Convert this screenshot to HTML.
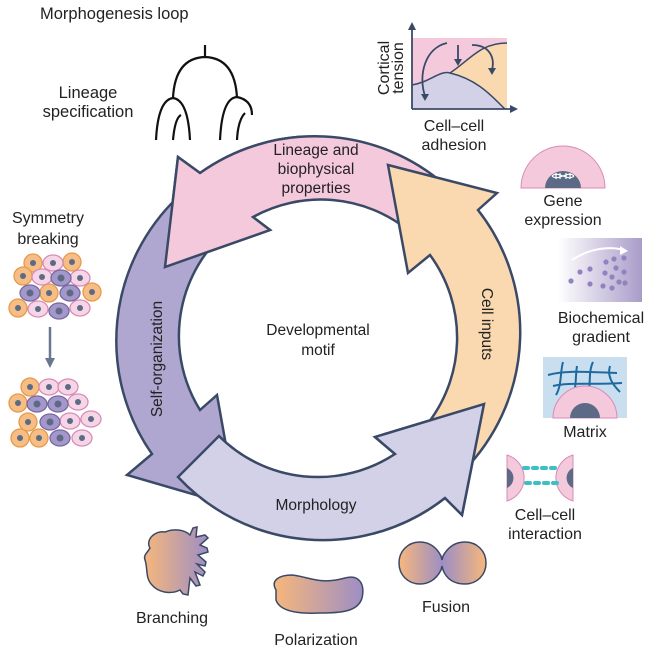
<!DOCTYPE html>
<html><head><meta charset="utf-8"><style>
html,body{margin:0;padding:0;background:#fff;}
svg{display:block;}
text{font-family:"Liberation Sans",sans-serif;fill:#222;}
</style></head><body>
<svg width="659" height="657" viewBox="0 0 659 657" xmlns="http://www.w3.org/2000/svg">
<defs>
<linearGradient id="grad1" x1="0" x2="1" y1="0" y2="0"><stop offset="0" stop-color="#ffffff"/><stop offset="1" stop-color="#a99cc9"/></linearGradient>
<linearGradient id="og" x1="0" x2="1" y1="0" y2="0"><stop offset="0" stop-color="#f6b77c"/><stop offset="1" stop-color="#9e8ec4"/></linearGradient>
<linearGradient id="fg" x1="0" x2="1" y1="0" y2="0"><stop offset="0" stop-color="#f6b77c"/><stop offset="0.5" stop-color="#9e8ec4"/><stop offset="1" stop-color="#f6b77c"/></linearGradient>
<clipPath id="cpP"><rect x="130" y="130" width="170" height="160"/></clipPath>
<clipPath id="cpL"><rect x="340" y="385" width="170" height="150"/></clipPath>
</defs>

<!-- Ring arrows -->
<g stroke="#3a4a66" stroke-width="2.5" stroke-linejoin="miter">
<path id="pink" fill="#f5c9dc" d="M445,185 A198,198 0 0 0 200,173 L178,157 L165,267 L270,230 L253,217 A140,140 0 0 1 408,230 Z"/>
<path fill="#b0a7d1" d="M178,197 A198,198 0 0 0 152,454 L127,475 L237,507 L217,395 L200,410 A140,140 0 0 1 219,238 Z"/>
<path id="lav" fill="#d3d1e8" d="M178,477 A198,198 0 0 0 445,498 L462,515 L484,404 L375,437 L395,454 A140,140 0 0 1 219,436 Z"/>
<path fill="#fad8b0" d="M470,464 A198,198 0 0 0 478,210 L497,193 L388,165 L408,273 L430,255 A140,140 0 0 1 425,427 Z"/>
<g clip-path="url(#cpP)"><path fill="#f5c9dc" d="M445,185 A198,198 0 0 0 200,173 L178,157 L165,267 L270,230 L253,217 A140,140 0 0 1 408,230 Z"/></g>
<g clip-path="url(#cpL)"><path fill="#d3d1e8" d="M178,477 A198,198 0 0 0 445,498 L462,515 L484,404 L375,437 L395,454 A140,140 0 0 1 219,436 Z"/></g>
</g>

<g font-size="15.5" text-anchor="middle">
<text x="316" y="155">Lineage and</text>
<text x="316" y="174">biophysical</text>
<text x="316" y="193">properties</text>
<text x="318" y="335">Developmental</text>
<text x="318" y="355">motif</text>
<text x="316" y="510">Morphology</text>
<text transform="translate(162,359) rotate(-90)">Self-organization</text>
<text transform="translate(482,324) rotate(90)">Cell inputs</text>
</g>

<!-- Top-left -->
<text x="40" y="19" font-size="16.5">Morphogenesis loop</text>
<text x="88" y="98" font-size="16.5" text-anchor="middle">Lineage</text>
<text x="88" y="117" font-size="16.5" text-anchor="middle">specification</text>
<g fill="none" stroke="#111" stroke-width="2.2">
<path d="M205,45 L205,58"/>
<path d="M173,98 Q175,58 205,57 Q235,58 237,98"/>
<path d="M156,140 Q158,100 173,98 Q188,100 190,140"/>
<path d="M173,140 Q175,118 181,115"/>
<path d="M220,140 Q222,98 237,97 Q252,100 252,115"/>
<path d="M237,140 Q238,120 245,113"/>
</g>

<!-- Chart -->
<g>
<rect x="412" y="38" width="95" height="71" fill="#f5c9dc"/>
<path d="M450,73 C470,60 480,43 507,43 L507,109 Z" fill="#fad8b0"/>
<path d="M412,85 C430,82 440,70 450,73 C480,80 495,100 505,109 L412,109 Z" fill="#d3d1e8"/>
<path d="M412,85 C430,82 440,70 450,73 C480,80 495,100 505,109" fill="none" stroke="#3a4a66" stroke-width="1.5"/>
<path d="M450,73 C470,60 480,43 507,43" fill="none" stroke="#3a4a66" stroke-width="1.5"/>
<g fill="none" stroke="#3a4a66" stroke-width="1.8">
<path d="M412,109 L412,27"/><path d="M412,109 L514,109"/>
<path d="M447,43 C425,48 418,75 425,96"/>
<path d="M458,45 L458,61"/>
<path d="M472,45 C490,45 495,58 492,70"/>
</g>
<g fill="#3a4a66">
<path d="M408,30 L412,22 L416,30 Z"/><path d="M510,105 L518,109 L510,113 Z"/>
<path d="M421,94 L425,101 L429,94 Z"/><path d="M454,59 L458,66 L462,59 Z"/><path d="M488,68 L492,75 L496,68 Z"/>
</g>
</g>
<text transform="translate(389,68) rotate(-90)" font-size="16" text-anchor="middle">Cortical</text>
<text transform="translate(403,68) rotate(-90)" font-size="16" text-anchor="middle">tension</text>
<text x="454" y="131" font-size="16" text-anchor="middle">Cell–cell</text>
<text x="454" y="150" font-size="16" text-anchor="middle">adhesion</text>

<!-- Symmetry breaking -->
<text x="48" y="223" font-size="16" text-anchor="middle">Symmetry</text>
<text x="48" y="244" font-size="16" text-anchor="middle">breaking</text>
<g stroke-width="1.5">
<g id="cells">
</g>
</g>
<g stroke-width="1.3">
<!-- top cluster -->
<g fill="#f6be84" stroke="#e69a4c">
<ellipse cx="33" cy="263" rx="9" ry="9"/><ellipse cx="72" cy="262" rx="9" ry="9"/><ellipse cx="23" cy="276" rx="9" ry="9"/>
<ellipse cx="49" cy="293" rx="9" ry="9"/><ellipse cx="92" cy="292" rx="9" ry="9"/><ellipse cx="18" cy="308" rx="9" ry="9"/>
<ellipse cx="30" cy="387" rx="9" ry="9"/><ellipse cx="18" cy="403" rx="9" ry="9"/><ellipse cx="28" cy="422" rx="9" ry="9"/>
<ellipse cx="20" cy="438" rx="9" ry="9"/><ellipse cx="39" cy="438" rx="9" ry="9"/>
</g>
<g fill="#f6d6e6" stroke="#d98bb7">
<ellipse cx="53" cy="263" rx="10" ry="8"/><ellipse cx="42" cy="277" rx="10" ry="8"/><ellipse cx="80" cy="278" rx="10" ry="8"/>
<ellipse cx="38" cy="309" rx="10" ry="8"/><ellipse cx="80" cy="308" rx="10" ry="8"/>
<ellipse cx="49" cy="387" rx="10" ry="8"/><ellipse cx="68" cy="387" rx="10" ry="8"/><ellipse cx="78" cy="402" rx="10" ry="8"/>
<ellipse cx="70" cy="421" rx="10" ry="8"/><ellipse cx="91" cy="419" rx="10" ry="8"/><ellipse cx="82" cy="438" rx="10" ry="8"/>
</g>
<g fill="#a497cc" stroke="#76699f">
<ellipse cx="61" cy="278" rx="10" ry="8"/><ellipse cx="30" cy="293" rx="10" ry="8"/><ellipse cx="70" cy="293" rx="10" ry="8"/><ellipse cx="59" cy="311" rx="10" ry="8"/>
<ellipse cx="37" cy="404" rx="10" ry="8"/><ellipse cx="58" cy="404" rx="10" ry="8"/><ellipse cx="50" cy="422" rx="10" ry="8"/><ellipse cx="60" cy="438" rx="10" ry="8"/>
</g>
<g fill="#5d6a86" stroke="none">
<circle cx="33" cy="263" r="3"/><circle cx="53" cy="263" r="3"/><circle cx="72" cy="262" r="3"/>
<circle cx="23" cy="276" r="3"/><circle cx="42" cy="277" r="3"/><circle cx="61" cy="278" r="3.5"/><circle cx="80" cy="278" r="3"/>
<circle cx="30" cy="293" r="3.5"/><circle cx="49" cy="293" r="3"/><circle cx="70" cy="293" r="3.5"/><circle cx="92" cy="292" r="3"/>
<circle cx="18" cy="308" r="3"/><circle cx="38" cy="309" r="3"/><circle cx="59" cy="311" r="3.5"/><circle cx="80" cy="308" r="3"/>
<circle cx="30" cy="387" r="3"/><circle cx="49" cy="387" r="3"/><circle cx="68" cy="387" r="3"/>
<circle cx="18" cy="403" r="3"/><circle cx="37" cy="404" r="3.5"/><circle cx="58" cy="404" r="3.5"/><circle cx="78" cy="402" r="3"/>
<circle cx="28" cy="422" r="3"/><circle cx="50" cy="422" r="3.5"/><circle cx="70" cy="421" r="3"/><circle cx="91" cy="419" r="3"/>
<circle cx="20" cy="438" r="3"/><circle cx="39" cy="438" r="3"/><circle cx="60" cy="438" r="3.5"/><circle cx="82" cy="438" r="3"/>
</g>
</g>
<path d="M50,327 L50,360" stroke="#6a7790" stroke-width="2.5"/>
<path d="M45,358 L50,368 L55,358 Z" fill="#6a7790"/>

<!-- Gene expression -->
<path d="M521,188 A42,42 0 0 1 605,188 Z" fill="#f5c9dc" stroke="#d98bb7" stroke-width="1"/>
<path d="M545,188 A18,17 0 0 1 581,188 Z" fill="#5d6a86"/>
<g stroke="#fff" stroke-width="1.2" fill="none">
<path d="M552,176 C558,170 568,182 574,176"/><path d="M552,176 C558,182 568,170 574,176"/>
<path d="M556,173 L556,179 M560,173 L560,179 M566,173 L566,179 M570,173 L570,179"/>
</g>
<text x="563" y="206" font-size="16" text-anchor="middle">Gene</text>
<text x="563" y="225" font-size="16" text-anchor="middle">expression</text>

<!-- Biochemical gradient -->
<rect x="558" y="238" width="84" height="64" fill="url(#grad1)"/>
<path d="M572,260 C590,248 610,246 624,250" stroke="#fff" stroke-width="2" fill="none"/>
<path d="M620,246 L628,251 L620,255 Z" fill="#fff"/>
<g fill="#9283c0">
<circle cx="571" cy="281" r="2.6"/><circle cx="580" cy="272" r="2.6"/><circle cx="590" cy="269" r="2.6"/><circle cx="590" cy="284" r="2.6"/>
<circle cx="603" cy="286" r="2.6"/><circle cx="605" cy="273" r="2.6"/><circle cx="606" cy="262" r="2.6"/><circle cx="614" cy="259" r="2.6"/>
<circle cx="612" cy="277" r="2.6"/><circle cx="616" cy="268" r="2.6"/><circle cx="619" cy="282" r="2.6"/><circle cx="624" cy="258" r="2.6"/>
<circle cx="624" cy="272" r="2.6"/><circle cx="625" cy="283" r="2.6"/><circle cx="612" cy="288" r="2.6"/>
</g>
<text x="601" y="323" font-size="16" text-anchor="middle">Biochemical</text>
<text x="601" y="342" font-size="16" text-anchor="middle">gradient</text>

<!-- Matrix -->
<rect x="543" y="357" width="84" height="61" fill="#c9dff0"/>
<g stroke="#1e6aa0" stroke-width="2" fill="none">
<path d="M548,375 C565,370 585,372 617,373"/><path d="M553,386 C570,382 590,385 622,383"/>
<path d="M563,362 C560,372 562,385 556,395"/><path d="M577,366 C575,378 577,390 571,400"/>
<path d="M593,362 C588,372 591,386 588,398"/><path d="M610,366 C607,376 612,384 620,392"/>
</g>
<path d="M553,418 A32,32 0 0 1 617,418 Z" fill="#f5c9dc" stroke="#d98bb7" stroke-width="1"/>
<path d="M570,418 A15,15 0 0 1 600,418 Z" fill="#5d6a86"/>
<text x="585" y="437" font-size="16" text-anchor="middle">Matrix</text>

<!-- Cell-cell interaction -->
<path d="M507,455 A24,24 0 0 1 507,501 Z" fill="#f5c9dc" stroke="#d98bb7" stroke-width="1"/>
<path d="M507,468 A11,11 0 0 1 507,488 Z" fill="#5d6a86"/>
<path d="M573,455 A24,24 0 0 0 573,501 Z" fill="#f5c9dc" stroke="#d98bb7" stroke-width="1"/>
<path d="M573,468 A11,11 0 0 0 573,488 Z" fill="#5d6a86"/>
<g fill="#3cc0c4">
<rect x="522" y="466" width="8" height="4" rx="2"/><rect x="531" y="466" width="8" height="4" rx="2"/><rect x="540" y="466" width="8" height="4" rx="2"/><rect x="549" y="466" width="8" height="4" rx="2"/>
<rect x="524" y="481" width="8" height="4" rx="2"/><rect x="533" y="481" width="8" height="4" rx="2"/><rect x="542" y="481" width="8" height="4" rx="2"/><rect x="551" y="481" width="8" height="4" rx="2"/>
</g>
<text x="545" y="520" font-size="16" text-anchor="middle">Cell–cell</text>
<text x="545" y="539" font-size="16" text-anchor="middle">interaction</text>

<!-- Bottom shapes -->
<path d="M150,548 C145,540 155,530 165,532 C175,528 185,530 190,535 L193,528 L197,527 L196,537 L205,535 L208,538 L200,545 L207,548 L208,552 L198,555 L206,562 L205,566 L197,564 L205,572 L203,576 L195,572 L200,585 L196,586 L190,578 L188,595 L183,594 L180,590 C170,595 158,592 152,585 C145,578 148,568 145,560 C143,555 148,552 150,548 Z" fill="url(#og)" stroke="#3a4a66" stroke-width="1.5"/>
<path d="M276,590 C270,580 280,575 292,575 C310,577 320,585 345,578 C360,574 365,585 362,598 C358,612 340,613 320,613 C300,614 280,612 276,600 Z" fill="url(#og)" stroke="#3a4a66" stroke-width="1.5"/>
<path d="M441,556 C436,546 428,542 420,542 C408,542 399,551 399,563 C399,575 408,584 420,584 C428,584 436,580 441,570 L442,566 L443,570 C447,580 455,584 465,584 C477,584 486,575 486,563 C486,551 477,542 465,542 C455,542 448,547 443,556 L442,560 Z" fill="url(#fg)" stroke="#3a4a66" stroke-width="1.5"/>
<text x="172" y="623" font-size="16" text-anchor="middle">Branching</text>
<text x="316" y="645" font-size="16" text-anchor="middle">Polarization</text>
<text x="446" y="612" font-size="16" text-anchor="middle">Fusion</text>
</svg>
</body></html>
